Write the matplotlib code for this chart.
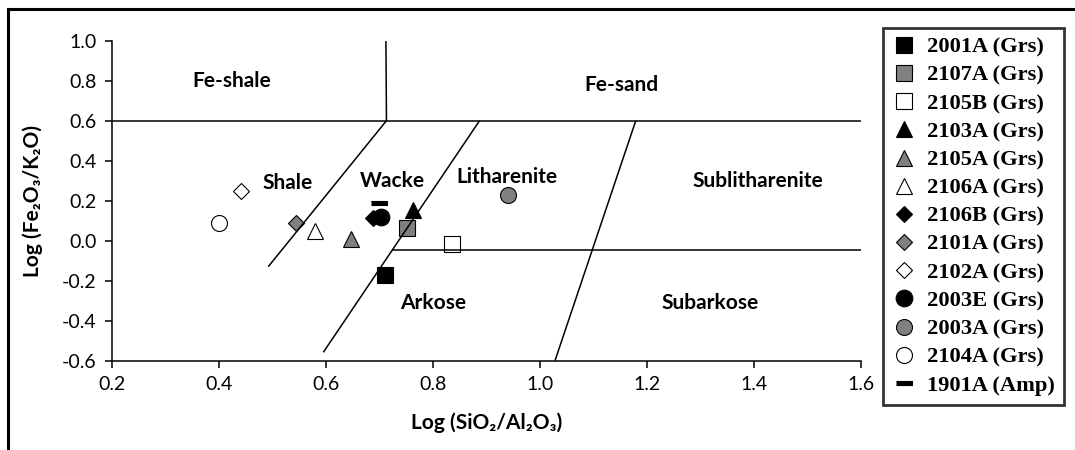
import matplotlib
matplotlib.use("Agg")
import matplotlib.pyplot as plt
from matplotlib.lines import Line2D

# ---- data ----
samples = ["2001A (Grs)", "2107A (Grs)", "2105B (Grs)", "2103A (Grs)", "2105A (Grs)",
           "2106A (Grs)", "2106B (Grs)", "2101A (Grs)", "2102A (Grs)", "2003E (Grs)",
           "2003A (Grs)", "2104A (Grs)", "1901A (Amp)"]
log_si_al = [0.710, 0.752, 0.835, 0.763, 0.646, 0.579, 0.687, 0.544, 0.441, 0.703, 0.941, 0.400, 0.699]
log_fe_k = [-0.170, 0.062, -0.017, 0.153, 0.007, 0.050, 0.112, 0.087, 0.247, 0.120, 0.228, 0.090, 0.190]

# field boundaries (x list, y list)
boundaries = [
    ([0.2, 1.6], [0.6, 0.6]),
    ([0.712, 0.713], [1.0, 0.6]),
    ([0.492, 0.713], [-0.13, 0.6]),
    ([0.595, 0.887], [-0.558, 0.6]),
    ([0.724, 1.6], [-0.047, -0.047]),
    ([1.028, 1.179], [-0.6, 0.6]),
]
field_names = ["Fe-shale", "Fe-sand", "Shale", "Wacke", "Litharenite", "Sublitharenite", "Arkose", "Subarkose"]
field_x = [0.424, 1.153, 0.529, 0.724, 0.938, 1.407, 0.800, 1.318]
field_y = [0.80, 0.78, 0.29, 0.30, 0.317, 0.30, -0.31, -0.31]

bar = [(-1, -0.22), (1, -0.22), (1, 0.22), (-1, 0.22)]
styles = [
    ("s", "black", 12), ("s", "#808080", 12), ("s", "white", 12),
    ("^", "black", 11.5), ("^", "#808080", 11.5), ("^", "white", 11.5),
    ("D", "black", 8), ("D", "#808080", 8), ("D", "white", 8),
    ("o", "black", 12), ("o", "#808080", 11.5), ("o", "white", 11.5),
    (bar, "black", 12),
]

sans = ["Lato", "DejaVu Sans"]
serif = ["Liberation Serif", "DejaVu Serif"]

fig = plt.figure(figsize=(10.75, 4.5), dpi=100)
ax = fig.add_axes([112 / 1075, 1 - 360.7 / 450, (861 - 112) / 1075, 320 / 450])

for xs, ys in boundaries:
    ax.plot(xs, ys, color="black", lw=1.1, zorder=3, solid_capstyle="butt")

for name, x, y, (m, c, s) in zip(samples, log_si_al, log_fe_k, styles):
    ax.plot([x], [y], linestyle="none", marker=m, markersize=s, markerfacecolor=c,
            markeredgecolor="black", markeredgewidth=0.8, label=name, zorder=2)

for t, x, y in zip(field_names, field_x, field_y):
    ax.text(x, y, t, ha="center", va="center", fontsize=15, fontweight="bold", family=sans)

ax.set_xlim(0.2, 1.6)
ax.set_ylim(-0.6, 1.0)
ax.set_xticks([0.2, 0.4, 0.6, 0.8, 1.0, 1.2, 1.4, 1.6])
ax.set_yticks([-0.6, -0.4, -0.2, 0.0, 0.2, 0.4, 0.6, 0.8, 1.0])
ax.xaxis.set_major_formatter(matplotlib.ticker.FormatStrFormatter("%.1f"))
ax.yaxis.set_major_formatter(matplotlib.ticker.FormatStrFormatter("%.1f"))
for sp in ["top", "right"]:
    ax.spines[sp].set_visible(False)
for sp in ["left", "bottom"]:
    ax.spines[sp].set_linewidth(1.1)
ax.tick_params(direction="out", length=5, width=1.1, labelsize=14, pad=6)
for lab in ax.get_xticklabels() + ax.get_yticklabels():
    lab.set_family(sans)

ax.set_xlabel("Log (SiO₂/Al₂O₃)", fontsize=15, fontweight="bold", family=sans, labelpad=14)
ax.set_ylabel("Log (Fe₂O₃/K₂O)", fontsize=15, fontweight="bold", family=sans, labelpad=14)

leg = fig.legend(loc="upper left", bbox_to_anchor=(883 / 1075, 1 - 28 / 450), borderaxespad=0,
                 frameon=True, fancybox=False, edgecolor="black", handlelength=1.1,
                 handletextpad=0.45, labelspacing=0.33, borderpad=0.4,
                 prop={"family": serif, "weight": "bold", "size": 16.2})
leg.get_frame().set_linewidth(2)

# outer chart border (partially visible)
fig.add_artist(Line2D([8 / 1075, 8 / 1075], [0, 1 - 9 / 450], color="black", lw=2.2,
                      transform=fig.transFigure))
fig.add_artist(Line2D([8 / 1075, 1], [1 - 9 / 450, 1 - 9 / 450], color="black", lw=2.2,
                      transform=fig.transFigure))

fig.savefig("out.png", dpi=100)
